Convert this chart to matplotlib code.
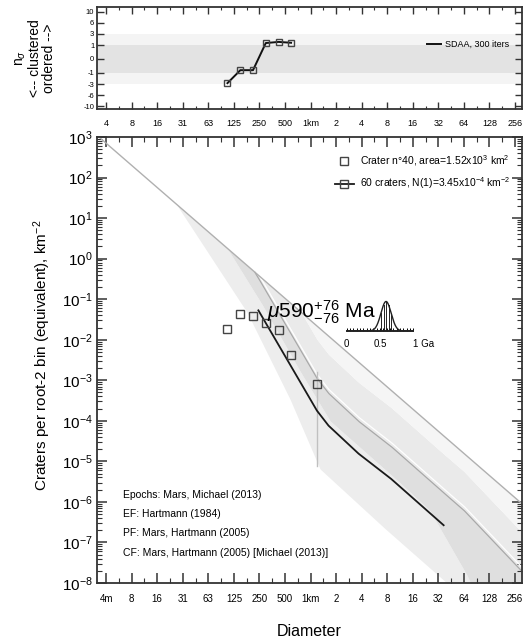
"""
Crater size-frequency plot with randomness (SDAA) panel on top
"""

import numpy as np
import matplotlib.pyplot as plt
from matplotlib.ticker import FixedLocator, NullFormatter, LogLocator
from matplotlib.lines import Line2D

plt.rcParams["font.family"] = ["Liberation Sans", "DejaVu Sans"]
plt.rcParams["mathtext.fontset"] = "custom"
plt.rcParams["mathtext.rm"] = "Liberation Sans"
plt.rcParams["mathtext.it"] = "Liberation Sans:italic"
plt.rcParams["mathtext.bf"] = "Liberation Sans:bold"

FRAME = "#333333"

# diameter ticks (km) and their labels
tick_d = [2.0 ** k for k in range(-8, 9)]
tick_lab_main = ["4m", "8", "16", "31", "63", "125", "250", "500", "1km",
                 "2", "4", "8", "16", "32", "64", "128", "256"]
tick_lab_top = ["4"] + tick_lab_main[1:]

# binned crater densities (root-2 bins)
bin_d = [0.105, 0.149, 0.21, 0.297, 0.42, 0.59, 1.19]
bin_n = [0.0188, 0.044, 0.0385, 0.0265, 0.0174, 0.0041, 0.00081]
err_d = 1.19
err_lo = 7.8e-6
err_hi = 1.6e-3

# SDAA randomness analysis
sdaa_d = [0.105, 0.149, 0.21, 0.297, 0.42, 0.59]
sdaa_n = [-2.8, -0.8, -0.8, 1.35, 1.55, 1.4]
sig_vals = [-20, -10, -6, -3, -1, 0, 1, 3, 6, 10, 20]
sig_pos = [-5.3, -4.3, -3.3, -2.3, -1.27, 0, 1.27, 2.3, 3.3, 4.3, 5.3]
sig_ticks = [10, 6, 3, 1, 0, -1, -3, -6, -10]

# isochron fit (590 Ma)
fit_d = [0.243, 1.19, 1.63, 3.68, 8.9, 37]
fit_n = [0.053, 1.78e-4, 7.6e-5, 1.55e-5, 3.7e-6, 2.66e-7]
age_ma = 590
age_err = 76

# production function shape of the same isochron over the whole range
pf_d = [0.00305, 0.243, 1.19, 1.63, 3.68, 8.9, 37, 64, 310]
pf_n = [1.55e5, 0.053, 1.78e-4, 7.6e-5, 1.55e-5, 3.7e-6, 2.66e-7, 9.9e-8, 3.07e-9]

# equilibrium function
ef_d = [0.00305, 310]
ef_n = [1.1e3, 9.0e-7]

# lower epoch boundaries
ep0_d = [0.003, 0.0261, 0.179, 0.573, 1.294, 7.54, 38.4, 50.3]
ep0_n = [1e5, 22.3, 0.0471, 3.43e-4, 6.5e-6, 2.2e-7, 1.1e-8, 5.6e-9]
ep1_d = [0.003, 0.104, 0.268, 0.752, 1.70, 11.3, 25.5, 69.7, 82]
ep1_n = [1e5, 1.82, 0.0745, 1.68e-3, 9.95e-5, 2.98e-6, 6.1e-7, 1.55e-8, 7.4e-9]
# upper epoch boundaries, as shifts (dex) of the isochron
ep_shift = [0.8, 1.76, 9.0]
ep_col = ["#ededed", "#dfdfdf", "#eaeaea", "#f5f5f5"]

fig = plt.figure(figsize=(5.27, 6.39), dpi=100)
ax = fig.add_axes([97 / 527, 1 - 583 / 639, 425 / 527, 446 / 639])
ax_top = fig.add_axes([97 / 527, 1 - 109 / 639, 425 / 527, 102 / 639])

# ---------- main panel ----------
ax.set_xscale("log")
ax.set_yscale("log")
ax.set_xlim(0.00305, 310)
ax.set_ylim(1e-8, 1e3)

grid = np.geomspace(0.00305, 310, 800)
lg = np.log10(grid)
log_pf = np.interp(lg, np.log10(pf_d), np.log10(pf_n))
log_ef = np.interp(lg, np.log10(ef_d), np.log10(ef_n))
bounds = [np.interp(lg, np.log10(ep0_d), np.log10(ep0_n)),
          np.interp(lg, np.log10(ep1_d), np.log10(ep1_n))]
bounds += [log_pf + s for s in ep_shift]
for lo, hi, col in zip(bounds[:-1], bounds[1:], ep_col):
    y0 = np.minimum(lo, log_ef)
    y1 = np.minimum(hi, log_ef)
    ax.fill_between(grid, 10 ** y0, 10 ** y1, color=col, lw=0, zorder=1)

for shift, col, lw in [(0.8, "#a8a8a8", 0.9), (0.9, "white", 0.9)]:
    yy = log_pf + shift
    yy = np.where(yy < log_ef, yy, np.nan)
    ax.plot(grid, 10 ** yy, color=col, lw=lw, zorder=2)

ax.plot(ef_d, ef_n, color="#b0b0b0", lw=1.0, zorder=2)

ax.plot([err_d, err_d], [err_lo, err_hi], color="#c0c0c0", lw=1.0, zorder=3)
ax.plot(fit_d, fit_n, color="#1a1a1a", lw=1.3, zorder=4)
ax.plot(bin_d, bin_n, "s", mfc="none", mec="#444444", ms=5.5, mew=1.0, zorder=5)

ax.xaxis.set_major_locator(FixedLocator(tick_d))
ax.xaxis.set_minor_locator(FixedLocator([d * 2 ** 0.5 for d in tick_d]))
ax.set_xticklabels(tick_lab_main)
ax.xaxis.set_minor_formatter(NullFormatter())
ax.yaxis.set_major_locator(LogLocator(base=10, numticks=20))
ax.yaxis.set_minor_locator(LogLocator(base=10, subs=np.arange(2, 10), numticks=20))
ax.yaxis.set_minor_formatter(NullFormatter())
ax.tick_params(which="both", direction="in", top=True, right=True, color=FRAME)
ax.tick_params(which="major", length=7, width=1.1)
ax.tick_params(which="minor", length=3.5, width=0.8)
ax.tick_params(axis="x", labelsize=7, pad=8)
ax.tick_params(axis="y", labelsize=11, pad=3)
for sp in ax.spines.values():
    sp.set_color(FRAME)
    sp.set_linewidth(1.3)

handles = [
    Line2D([], [], ls="none", marker="s", mfc="none", mec="#444444", ms=5.5),
    Line2D([], [], color="#1a1a1a", lw=1.3, marker="s", mfc="none", mec="#444444", ms=5.5),
]
ax.legend(handles, ["Crater n\u00b040, area=1.52x10$^3$ km$^2$",
                    "60 craters, N(1)=3.45x10$^{-4}$ km$^{-2}$"],
          loc="upper right", bbox_to_anchor=(0.995, 0.985), frameon=False,
          fontsize=7.5, handlelength=1.8, handletextpad=0.6, labelspacing=0.75)

ax.text(0.4, 0.594, r"$\mu$" + f"{age_ma}" + r"$^{+%d}_{-%d}$ Ma" % (age_err, age_err),
        transform=ax.transAxes, fontsize=15, ha="left", va="baseline", zorder=6)

notes = ["Epochs: Mars, Michael (2013)", "EF: Hartmann (1984)",
         "PF: Mars, Hartmann (2005)", "CF: Mars, Hartmann (2005) [Michael (2013)]"]
for i, s in enumerate(notes):
    ax.text(0.061, 0.197 - i * 0.043, s, transform=ax.transAxes, fontsize=7.5,
            va="center", ha="left")

ax.set_xlabel("Diameter", fontsize=11.5, labelpad=14)
fig.text(42 / 527, 1 - 355 / 639, "Craters per root-2 bin (equivalent), km$^{-2}$",
         rotation=90, ha="center", va="center", fontsize=11)

# age pdf inset
ax_in = fig.add_axes([346.7 / 527, 1 - 331 / 639, 66.7 / 527, 31 / 639])
t = np.linspace(0, 1, 400)
mu, sd = age_ma / 1000, age_err / 1000
pdf = np.exp(-0.5 * ((t - mu) / sd) ** 2)
ax_in.plot(t, pdf, color="#222222", lw=1.0)
for v in [mu - sd, mu - sd / 2, mu, mu + sd / 2, mu + sd]:
    ax_in.plot([v, v], [0, np.exp(-0.5 * ((v - mu) / sd) ** 2)], color="#222222", lw=0.7)
ax_in.set_xlim(0, 1)
ax_in.set_ylim(0, 1.05)
ax_in.patch.set_alpha(0)
for k in ["top", "left", "right"]:
    ax_in.spines[k].set_visible(False)
ax_in.spines["bottom"].set_linewidth(1.4)
ax_in.spines["bottom"].set_color("#222222")
ax_in.set_yticks([])
ax_in.set_xticks([0, 0.5, 1])
ax_in.set_xticklabels(["0", "0.5", "1 Ga"], fontsize=7)
ax_in.xaxis.get_ticklabels()[2].set_horizontalalignment("left")
ax_in.set_xticks(np.arange(0, 1.001, 0.05), minor=True)
ax_in.tick_params(axis="x", which="both", direction="in", length=2, width=0.7, pad=6)

# ---------- top SDAA panel ----------
ax_top.set_xscale("log")
ax_top.set_yscale("function", functions=(lambda v: np.interp(v, sig_vals, sig_pos),
                                         lambda p: np.interp(p, sig_pos, sig_vals)))
ax_top.set_xlim(0.00305, 310)
ax_top.set_ylim(-12.5, 14.3)
ax_top.axhspan(-3, 3, color="#f4f4f4", lw=0, zorder=0)
ax_top.axhspan(-1, 1, color="#e3e3e3", lw=0, zorder=0)
ax_top.plot(sdaa_d, sdaa_n, color="#111111", lw=1.4, marker="s", mfc="none",
            mec="#444444", ms=5, mew=1.0)
ax_top.legend([Line2D([], [], color="#111111", lw=1.4)], ["SDAA, 300 iters"],
              loc="center right", bbox_to_anchor=(0.99, 0.63), frameon=False,
              fontsize=6.5, handlelength=1.6, handletextpad=0.5)

ax_top.xaxis.set_major_locator(FixedLocator(tick_d))
ax_top.xaxis.set_minor_locator(FixedLocator([d * 2 ** 0.5 for d in tick_d]))
ax_top.set_xticklabels(tick_lab_top)
ax_top.xaxis.set_minor_formatter(NullFormatter())
ax_top.yaxis.set_major_locator(FixedLocator(sig_ticks))
ax_top.set_yticklabels([str(v) for v in sig_ticks])
ax_top.yaxis.set_minor_locator(FixedLocator([]))
ax_top.tick_params(which="both", direction="in", top=True, right=True, color=FRAME)
ax_top.tick_params(which="major", length=5, width=1.0)
ax_top.tick_params(which="minor", length=2.5, width=0.8)
ax_top.tick_params(axis="x", labelsize=6.5, pad=7)
ax_top.tick_params(axis="y", labelsize=5.5, pad=2)
for sp in ax_top.spines.values():
    sp.set_color(FRAME)
    sp.set_linewidth(1.3)

fig.text(35 / 527, 1 - 58 / 639, "n$_{\\sigma}$\n<-- clustered\nordered -->",
         rotation=90, ha="center", va="center", fontsize=10, linespacing=1.0,
         multialignment="center")

fig.savefig("out.png", dpi=100)
